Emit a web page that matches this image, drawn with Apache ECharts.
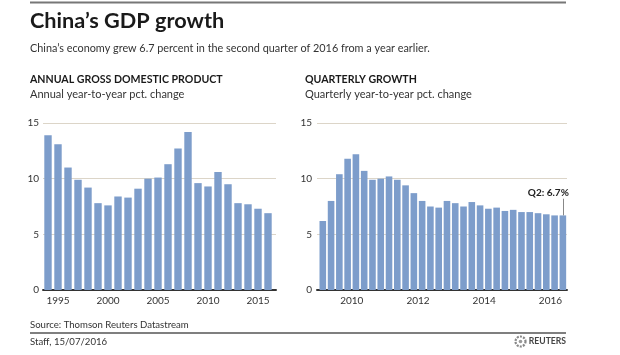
<!DOCTYPE html>
<html>
<head>
<meta charset="utf-8">
<script src="https://cdn.jsdelivr.net/npm/echarts@6/dist/echarts.min.js"></script>
<style>
html,body{margin:0;padding:0;background:#fff;}
#chart{width:620px;height:355px;}
</style>
</head>
<body>
<div id="chart"></div>
<script>
// ---- Data ----
// Annual GDP growth (year-to-year %), years 1993..2015
var annualYears = [1993,1994,1995,1996,1997,1998,1999,2000,2001,2002,2003,2004,2005,2006,2007,2008,2009,2010,2011,2012,2013,2014,2015];
var annualValues = [13.9,13.1,11.0,9.9,9.2,7.8,7.6,8.4,8.3,9.1,10.0,10.1,11.3,12.7,14.2,9.6,9.3,10.6,9.5,7.8,7.7,7.3,6.9];

// Quarterly GDP growth (year-to-year %), 2009 Q1 .. 2016 Q2
var quarterYears = [2009,2009,2009,2009,2010,2010,2010,2010,2011,2011,2011,2011,2012,2012,2012,2012,2013,2013,2013,2013,2014,2014,2014,2014,2015,2015,2015,2015,2016,2016];
var quarterNums  = [1,2,3,4,1,2,3,4,1,2,3,4,1,2,3,4,1,2,3,4,1,2,3,4,1,2,3,4,1,2];
var quarterValues = [6.2,8.0,10.4,11.8,12.2,10.7,9.9,10.0,10.2,9.9,9.4,8.7,8.0,7.5,7.4,8.0,7.8,7.5,7.9,7.6,7.3,7.4,7.1,7.2,7.0,7.0,6.9,6.8,6.7,6.7];

var yTicks = [0, 5, 10, 15];

var titleText = 'China\u2019s GDP growth';
var subtitleText = 'China\u2019s economy grew 6.7 percent in the second quarter of 2016 from a year earlier.';
var leftHeader = 'ANNUAL GROSS DOMESTIC PRODUCT';
var leftSub = 'Annual year-to-year pct. change';
var rightHeader = 'QUARTERLY GROWTH';
var rightSub = 'Quarterly year-to-year pct. change';
var sourceText = 'Source: Thomson Reuters Datastream';
var staffText = 'Staff, 15/07/2016';

// ---- Build ----
var FONT = 'Lato, "Open Sans", sans-serif';
var BAR = '#7d9dcb';
var GRIDC = '#dcd5c8';

// annual bars plotted at the end of each year
var annualData = annualYears.map(function (y, i) { return [y + 1, annualValues[i]]; });
// quarterly bars plotted at the middle of each quarter
var quarterData = quarterYears.map(function (y, i) { return [y + (quarterNums[i] - 0.5) / 4, quarterValues[i]]; });
var last = quarterData[quarterData.length - 1];
var lastLabel = 'Q' + quarterNums[quarterNums.length - 1] + ': ' + quarterValues[quarterValues.length - 1] + '%';

function yearFmt(v) { return Number.isInteger(v) ? String(v) : ''; }

var yAxisBase = function (gridIndex, margin) {
  return {
    type: 'value', gridIndex: gridIndex, min: yTicks[0], max: yTicks[yTicks.length - 1], interval: yTicks[1] - yTicks[0],
    axisLine: {show: false}, axisTick: {show: false},
    axisLabel: {color: '#333', fontFamily: FONT, fontSize: 10, margin: margin},
    splitLine: {show: true, lineStyle: {color: GRIDC, width: 1}}
  };
};
var xAxisBase = function (gridIndex, min, max) {
  return {
    type: 'value', gridIndex: gridIndex, min: min, max: max,
    axisLine: {show: true, onZero: false, lineStyle: {color: '#333', width: 2}},
    axisTick: {show: false},
    splitLine: {show: false},
    axisLabel: {color: '#333', fontFamily: FONT, fontSize: 10, margin: 6, formatter: yearFmt, showMinLabel: false, showMaxLabel: false}
  };
};

var chart = echarts.init(document.getElementById('chart'), null, {renderer: 'canvas'});
chart.setOption({
  backgroundColor: '#fff',
  animation: false,
  grid: [
    {left: 43, right: 344, top: 123, bottom: 65},
    {left: 317, right: 53, top: 123, bottom: 65}
  ],
  xAxis: [xAxisBase(0, 1993.5, 2016.8), xAxisBase(1, 2008.95, 2016.5)],
  yAxis: [yAxisBase(0, 4), yAxisBase(1, 5)],
  series: [
    {type: 'bar', xAxisIndex: 0, yAxisIndex: 0, data: annualData, barWidth: 7.4, itemStyle: {color: BAR}},
    {type: 'bar', xAxisIndex: 1, yAxisIndex: 1, data: quarterData, barWidth: 6.6, itemStyle: {color: BAR},
      markLine: {
        silent: true, symbol: 'none', label: {show: false},
        lineStyle: {color: '#888', width: 1, type: 'solid'},
        data: [[{coord: [last[0], last[1]]}, {coord: [last[0], last[1] + 1.5]}]]
      },
      markPoint: {
        silent: true, symbol: 'circle', symbolSize: 0,
        data: [{coord: [last[0], last[1] + 1.5]}],
        label: {show: true, formatter: lastLabel, position: 'inside', align: 'right', verticalAlign: 'bottom',
          offset: [6, -1], color: '#222', fontFamily: FONT, fontSize: 10, fontWeight: 'bold'}
      }
    }
  ],
  graphic: [
    {type: 'line', shape: {x1: 30, y1: 2.5, x2: 566, y2: 2.5}, style: {stroke: '#777', lineWidth: 2}},
    {type: 'text', x: 30, y: 21.5, style: {text: titleText, font: 'bold 21.7px ' + FONT, fill: '#1a1a1a', verticalAlign: 'middle'}},
    {type: 'text', x: 30, y: 48, style: {text: subtitleText, font: '10.85px ' + FONT, fill: '#333', verticalAlign: 'middle'}},
    {type: 'text', x: 30, y: 80, style: {text: leftHeader, font: 'bold 10.6px ' + FONT, fill: '#1a1a1a', verticalAlign: 'middle'}},
    {type: 'text', x: 30, y: 94.5, style: {text: leftSub, font: '11px ' + FONT, fill: '#333', verticalAlign: 'middle'}},
    {type: 'text', x: 305, y: 80, style: {text: rightHeader, font: 'bold 10.6px ' + FONT, fill: '#1a1a1a', verticalAlign: 'middle'}},
    {type: 'text', x: 305, y: 94.5, style: {text: rightSub, font: '11px ' + FONT, fill: '#333', verticalAlign: 'middle'}},
    {type: 'text', x: 30, y: 325, style: {text: sourceText, font: '9.6px ' + FONT, fill: '#333', verticalAlign: 'middle'}},
    {type: 'line', shape: {x1: 30, y1: 333, x2: 566, y2: 333}, style: {stroke: '#555', lineWidth: 1.5}},
    {type: 'text', x: 30, y: 341.5, style: {text: staffText, font: '9.6px ' + FONT, fill: '#333', verticalAlign: 'middle'}},
    {type: 'circle', shape: {cx: 520.5, cy: 341.5, r: 5}, style: {fill: '#fff', stroke: '#888', lineWidth: 2.2, lineDash: [2, 1.2]}},
    {type: 'circle', shape: {cx: 520.5, cy: 341.5, r: 1.8}, style: {fill: '#999'}},
    {type: 'text', x: 566, y: 341.5, style: {text: 'REUTERS', font: 'bold 8.6px ' + FONT, fill: '#444', align: 'right', verticalAlign: 'middle'}}
  ]
});
</script>
</body>
</html>
